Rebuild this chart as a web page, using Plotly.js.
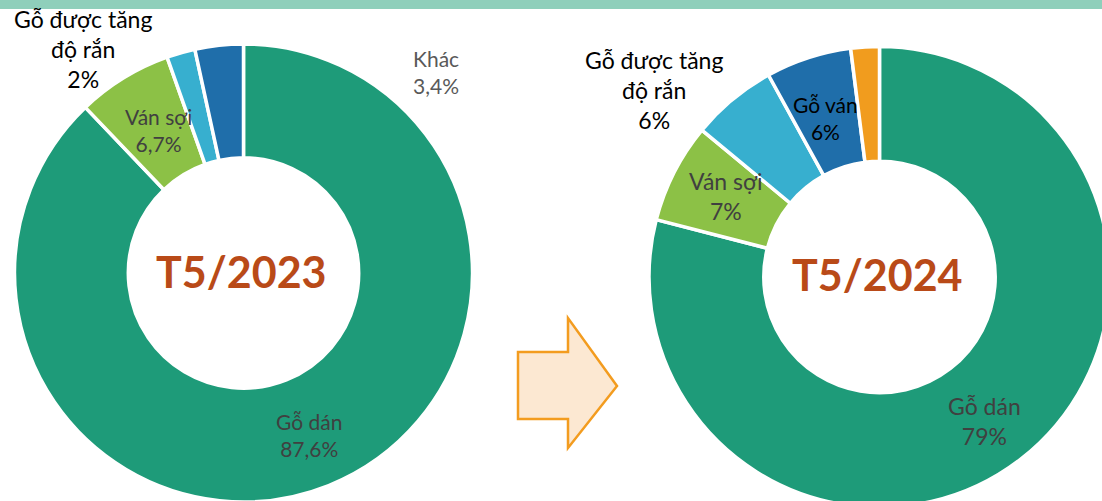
<!DOCTYPE html>
<html>
<head>
<meta charset="utf-8">
<script src="https://cdn.plot.ly/plotly-3.0.1.min.js"></script>
<style>
  html, body { margin: 0; padding: 0; overflow: hidden; background: #ffffff; width: 1102px; height: 501px; }
  #chart { position: absolute; left: 0; top: 0; width: 1110px; height: 510px; }
</style>
</head>
<body>
<div id="chart"></div>
<script>
// ---- data ----
const categories2023 = ['Gỗ dán', 'Ván sợi', 'Gỗ được tăng độ rắn', 'Khác'];
const values2023 = [87.6, 6.7, 2, 3.4];
const labelText2023 = ['Gỗ dán', 'Ván sợi', 'Gỗ được tăng<br>độ rắn', 'Khác'];

const categories2024 = ['Gỗ dán', 'Ván sợi', 'Gỗ được tăng độ rắn', 'Gỗ ván', 'Khác'];
const values2024 = [79, 7, 6, 6, 2];
const labelText2024 = ['Gỗ dán', 'Ván sợi', 'Gỗ được tăng<br>độ rắn', 'Gỗ ván', null];

const centerTitles = ['T5/2023', 'T5/2024'];

// ---- styling ----
const W = 1110, H = 510;
const px = x => x / W;
const py = y => 1 - y / H;

const colors2023 = ['#1e9b79', '#8cc146', '#37afcf', '#1f6eaa'];
const colors2024 = ['#1e9b79', '#8cc146', '#37afcf', '#1f6eaa', '#f19c1e'];

const FONT = 'Lato, "Open Sans", sans-serif';

// label placements (pixel centres), sizes, colours
const labelPos2023 = [[309, 435, 21, '#404040'], [158, 130, 21, '#404040'], [83, 49, 23, '#000000'], [436, 72, 21, '#595959']];
const labelPos2024 = [[984, 421, 23, '#404040'], [726, 196, 23, '#404040'], [654, 90, 23, '#000000'], [825, 118, 21, '#000000'], null];

const fmt = v => String(v).replace('.', ',') + '%';

function pieTrace(cats, vals, cols, cx, cy, R, hole, name) {
  return {
    type: 'pie',
    name: name,
    labels: cats,
    values: vals,
    sort: false,
    direction: 'clockwise',
    rotation: 0,
    hole: hole,
    textinfo: 'none',
    hoverinfo: 'label+percent',
    marker: { colors: cols, line: { color: '#ffffff', width: 3.5 } },
    domain: { x: [px(cx - R), px(cx + R)], y: [py(cy + R), py(cy - R)] },
    showlegend: false
  };
}

const traces = [
  pieTrace(categories2023, values2023, colors2023, 243.5, 273, 229, 0.503, 'T5/2023'),
  pieTrace(categories2024, values2024, colors2024, 879.5, 277, 230.5, 0.502, 'T5/2024')
];

const annotations = [];
function addLabels(texts, vals, pos) {
  texts.forEach((t, i) => {
    if (!t || !pos[i]) return;
    const p = pos[i];
    annotations.push({
      xref: 'paper', yref: 'paper', x: px(p[0]), y: py(p[1]),
      xanchor: 'center', yanchor: 'middle', showarrow: false,
      text: t + '<br>' + fmt(vals[i]),
      align: 'center',
      font: { family: FONT, size: p[2], color: p[3] }
    });
  });
}
addLabels(labelText2023, values2023, labelPos2023);
addLabels(labelText2024, values2024, labelPos2024);

const centerPos = [[241, 271], [877, 274]];
centerTitles.forEach((t, i) => {
  annotations.push({
    xref: 'paper', yref: 'paper', x: px(centerPos[i][0]), y: py(centerPos[i][1]),
    xanchor: 'center', yanchor: 'middle', showarrow: false,
    text: '<b>' + t + '</b>',
    font: { family: FONT, size: 43, color: '#b94a18' }
  });
});

// block arrow
const arrowPts = [[518, 352], [568, 352], [568, 318], [617, 386], [568, 448], [568, 419], [518, 419]];
const arrowPath = 'M ' + arrowPts.map(p => px(p[0]).toFixed(5) + ',' + py(p[1]).toFixed(5)).join(' L ') + ' Z';

const shapes = [
  { type: 'rect', xref: 'paper', yref: 'paper', x0: 0, x1: 1, y0: py(9), y1: 1,
    fillcolor: '#8fcfbb', line: { width: 0 }, layer: 'below' },
  { type: 'path', xref: 'paper', yref: 'paper', path: arrowPath,
    fillcolor: '#fce8d2', line: { color: '#f39c1f', width: 2.5 } }
];

const layout = {
  width: W, height: H,
  margin: { l: 0, r: 0, t: 0, b: 0, pad: 0 },
  paper_bgcolor: '#ffffff',
  plot_bgcolor: '#ffffff',
  showlegend: false,
  annotations: annotations,
  shapes: shapes,
  font: { family: FONT }
};

Plotly.newPlot('chart', traces, layout, { displayModeBar: false, staticPlot: true });
</script>
</body>
</html>
